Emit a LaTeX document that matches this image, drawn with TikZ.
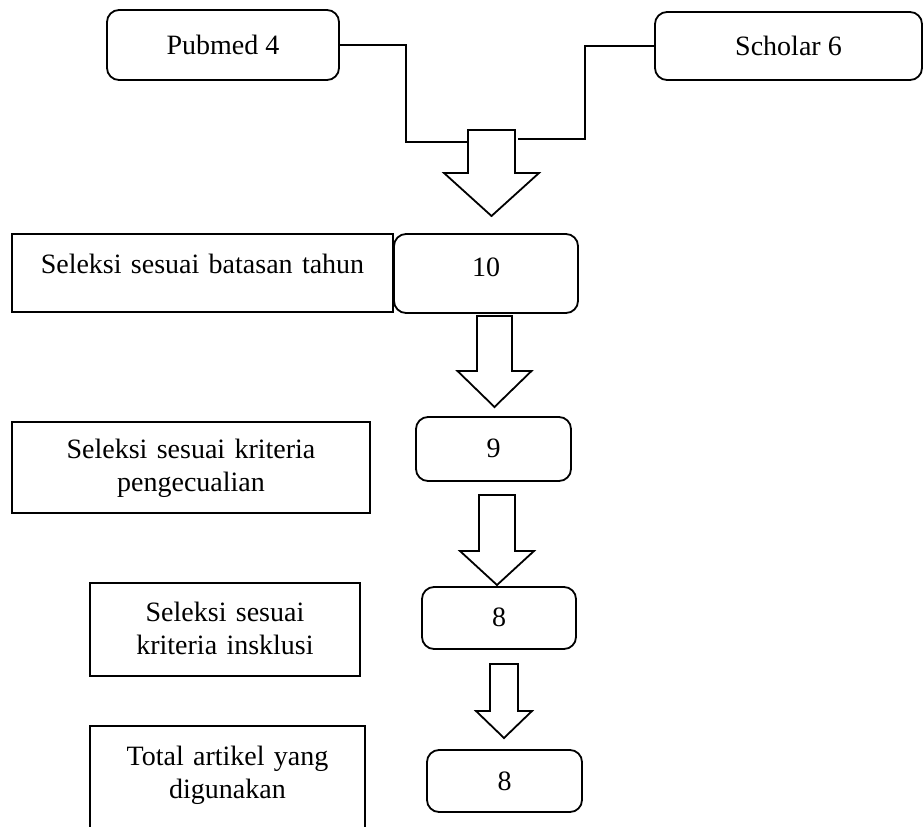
\documentclass[tikz,border=0pt]{standalone}
\usepackage{fontspec}
\setmainfont{Liberation Serif}
\tikzset{
	box/.style={draw,line width=1.8pt,rectangle,align=center,inner sep=0pt,font=\fontsize{28}{33.5}\selectfont},
	rbox/.style={box,rounded corners=12pt},
	link/.style={draw,line width=1.5pt},
	blk/.style={draw,line width=1.8pt,fill=white}
}
% block arrow: top centre, shaft half width, shaft length, head half width, head length
\newcommand{\blkarrow}[5]{%
	\draw[blk] #1 ++(-#2,0) -- ++(2*#2,0) -- ++(0,#3) -- ++(#4-#2,0)
		-- ++(-#4,#5) -- ++(-#4,-#5) -- ++(#4-#2,0) -- cycle;}

\begin{document}
\begin{tikzpicture}[x=1pt,y=-1pt]
	\clip (0,0) rectangle (924,827);
	% sources
	\node[rbox,minimum width=232pt,minimum height=70pt] (pub) at (223,45) {Pubmed 4};
	\node[rbox,minimum width=267pt,minimum height=68pt] (sch) at (788.5,46) {Scholar 6};
	\coordinate (a1) at (491.5,130);
	\coordinate (a1l) at (468,142);
	\coordinate (a1r) at (518,139);
	\draw[link] (pub.east) -- ++(66,0) |- (a1l);
	\draw[link] (sch.west) -- ++(-69,0) |- (a1r);
	\blkarrow{(a1)}{23.5}{43}{47.5}{43}
	% steps
	\node[box,text width=381pt,text height=39pt,text depth=39pt,anchor=base] (yr) at (202.5,273) {Seleksi sesuai batasan tahun};
	\node[rbox,minimum width=184pt,text height=42pt,text depth=37pt,anchor=base] (n10) at (486,276) {10};
	\coordinate (a2) at (494.5,316);
	\blkarrow{(a2)}{17.5}{55}{37}{36}
	\node[box,text width=358pt,text height=36pt,text depth=55pt,anchor=base] (exc) at (191,458) {Seleksi sesuai kriteria\\pengecualian};
	\node[rbox,minimum width=155pt,text height=40pt,text depth=24pt,anchor=base] (n9) at (493.5,457) {9};
	\coordinate (a3) at (497,495);
	\blkarrow{(a3)}{18}{56}{37}{34}
	\node[box,text width=270pt,text height=38pt,text depth=55pt,anchor=base] (inc) at (225,621) {Seleksi sesuai\\kriteria insklusi};
	\node[rbox,minimum width=154pt,text height=39pt,text depth=23pt,anchor=base] (n8) at (499,626) {8};
	\coordinate (a4) at (504,664);
	\blkarrow{(a4)}{14}{47}{28}{27}
	\node[box,text width=275pt,text height=39pt,text depth=80pt,anchor=base] (tot) at (227.5,765) {Total artikel yang\\digunakan};
	\node[rbox,minimum width=155pt,text height=40pt,text depth=22pt,anchor=base] (fin) at (504.5,790) {8};
\end{tikzpicture}
\end{document}
